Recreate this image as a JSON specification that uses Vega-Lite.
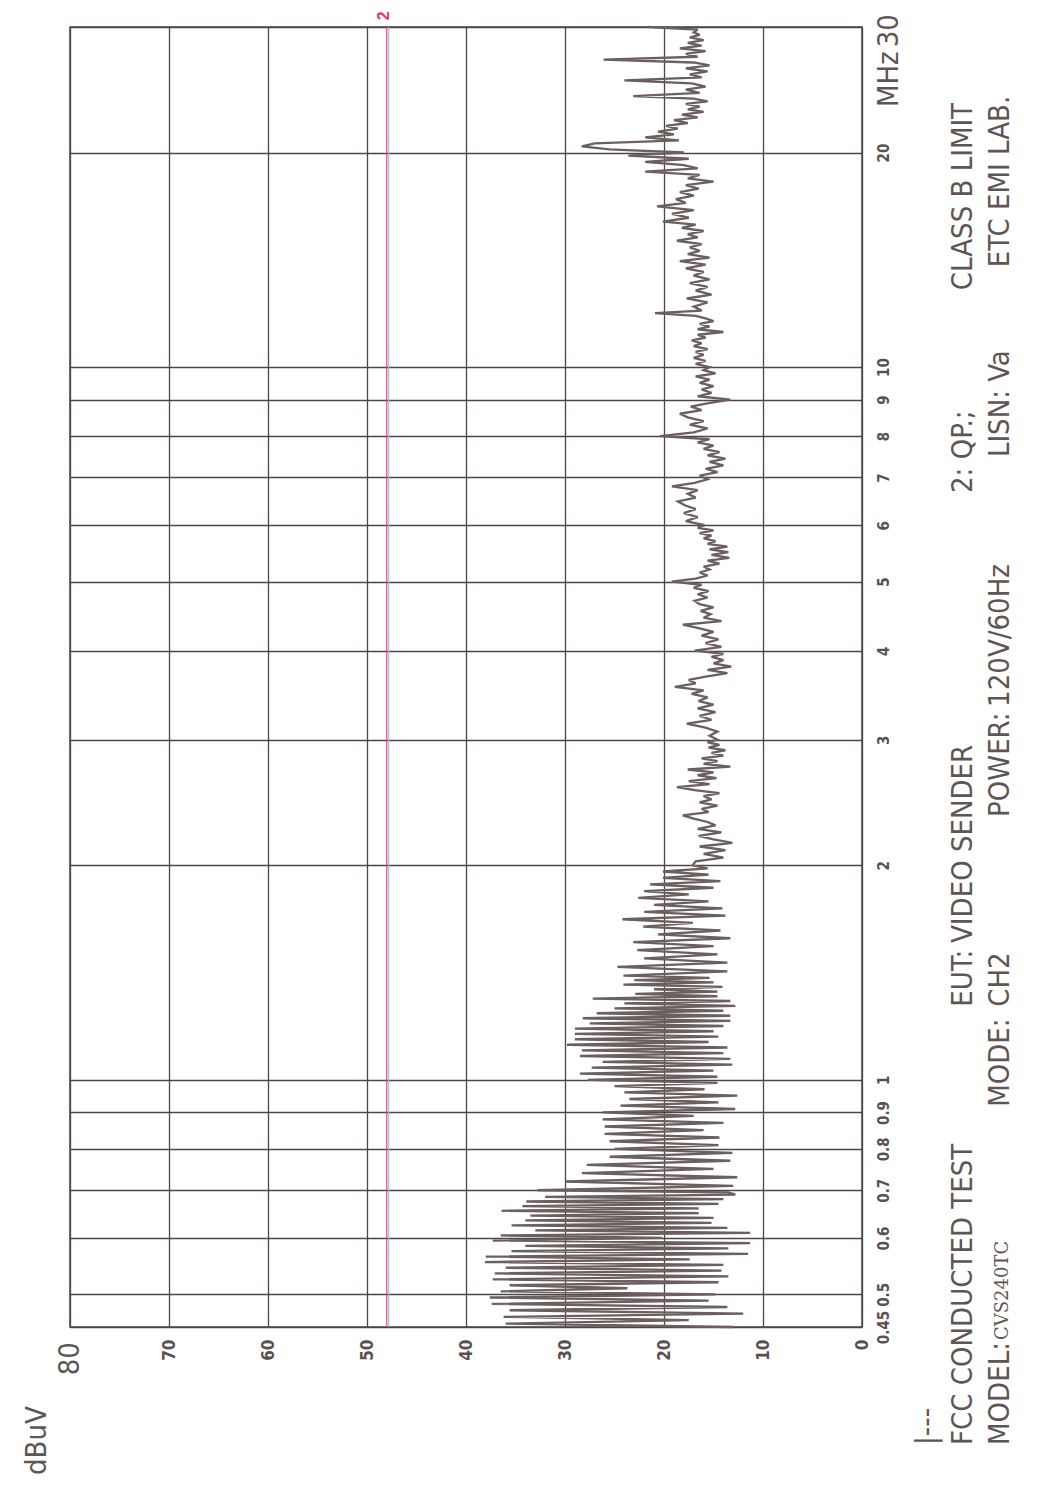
{
  "$schema": "https://vega.github.io/schema/vega-lite/v6.json",
  "width": 792,
  "height": 1300,
  "autosize": {"type": "none"},
  "padding": {"left": 70, "top": 27, "right": 177, "bottom": 173},
  "background": "#ffffff",
  "config": {
    "view": {"stroke": "#4e4646", "strokeWidth": 1.5},
    "text": {"font": "Liberation Sans Narrow, DejaVu Sans Condensed, Liberation Sans, sans-serif"}
  },
  "encoding": {
    "x": {
      "field": "v", "type": "quantitative",
      "scale": {"domain": [0, 80], "reverse": true, "nice": false, "zero": false},
      "axis": {
        "values": [0, 10, 20, 30, 40, 50, 60, 70, 80],
        "labelExpr": "datum.value == 80 ? '' : datum.label",
        "labelAngle": 270, "labelAlign": "right", "labelBaseline": "middle",
        "labelFont": "Liberation Sans Narrow, DejaVu Sans Condensed, Liberation Sans, sans-serif",
        "labelFontWeight": "bold", "labelFontSize": 17, "labelColor": "#5a5050",
        "labelPadding": 12, "ticks": false, "domain": false,
        "grid": true, "gridColor": "#4e4646", "gridWidth": 1.3,
        "title": null, "labelOverlap": false, "labelFlush": false
      }
    },
    "y": {
      "field": "f", "type": "quantitative",
      "scale": {"type": "log", "domain": [0.45, 30], "nice": false, "zero": false},
      "axis": {
        "orient": "right",
        "values": [0.45, 0.5, 0.6, 0.7, 0.8, 0.9, 1, 2, 3, 4, 5, 6, 7, 8, 9, 10, 20, 30],
        "format": "~g",
        "labelExpr": "datum.value == 30 ? '' : datum.label",
        "labelAngle": 270, "labelAlign": "center", "labelBaseline": "top",
        "labelFont": "Liberation Sans Narrow, DejaVu Sans Condensed, Liberation Sans, sans-serif",
        "labelFontWeight": "bold", "labelFontSize": 15, "labelColor": "#5a5050",
        "labelPadding": 14, "ticks": false, "domain": false,
        "grid": true, "gridColor": "#4e4646", "gridWidth": 1.3,
        "title": null, "labelOverlap": false, "labelFlush": false
      }
    }
  },
  "layer": [
    {
      "data": {"values": [
        {"series": "QP limit shadow", "v": 47.8, "f": 0.45, "f2": 30},
        {"series": "QP limit", "v": 48, "f": 0.45, "f2": 30}
      ]},
      "mark": {"type": "rule", "strokeWidth": 1.1},
      "encoding": {
        "y2": {"field": "f2"},
        "color": {"field": "series", "type": "nominal", "scale": {"domain": ["QP limit", "QP limit shadow"], "range": ["#e8336b", "#a9b3e0"]}, "legend": null}
      }
    },
    {
      "data": {"values": [
        {"f":0.45,"v":13.0},{"f":0.455,"v":36.0},{"f":0.46,"v":17.5},{"f":0.465,"v":36.2},{"f":0.47,"v":12.0},{"f":0.475,"v":35.6},{"f":0.48,"v":13.6},{"f":0.485,"v":37.4},{"f":0.49,"v":15.5},{"f":0.495,"v":37.6},
        {"f":0.5,"v":14.8},{"f":0.505,"v":36.5},{"f":0.51,"v":23.7},{"f":0.515,"v":35.6},{"f":0.52,"v":14.5},{"f":0.525,"v":37.3},{"f":0.53,"v":13.5},{"f":0.535,"v":37.1},{"f":0.54,"v":14.2},{"f":0.545,"v":36.0},
        {"f":0.55,"v":14.0},{"f":0.555,"v":38.1},{"f":0.56,"v":17.4},{"f":0.565,"v":38.0},{"f":0.57,"v":11.5},{"f":0.575,"v":35.4},{"f":0.58,"v":13.5},{"f":0.585,"v":34.0},{"f":0.59,"v":11.3},{"f":0.595,"v":37.3},
        {"f":0.6,"v":20.2},{"f":0.605,"v":36.5},{"f":0.61,"v":11.3},{"f":0.615,"v":33.0},{"f":0.62,"v":13.6},{"f":0.625,"v":35.4},{"f":0.63,"v":15.2},{"f":0.635,"v":34.0},{"f":0.64,"v":15.0},{"f":0.645,"v":33.5},
        {"f":0.65,"v":16.5},{"f":0.655,"v":36.4},{"f":0.66,"v":16.5},{"f":0.665,"v":34.3},{"f":0.67,"v":14.5},{"f":0.675,"v":33.9},{"f":0.68,"v":14.0},{"f":0.685,"v":32.0},{"f":0.69,"v":12.8},{"f":0.695,"v":13.5},
        {"f":0.7,"v":32.8},{"f":0.71,"v":13.0},{"f":0.72,"v":30.0},{"f":0.73,"v":12.6},{"f":0.74,"v":28.3},{"f":0.75,"v":15.0},{"f":0.76,"v":27.8},{"f":0.77,"v":13.3},{"f":0.78,"v":25.5},{"f":0.79,"v":13.1},
        {"f":0.8,"v":25.0},{"f":0.81,"v":14.5},{"f":0.82,"v":25.5},{"f":0.83,"v":14.4},{"f":0.84,"v":26.0},{"f":0.85,"v":16.0},{"f":0.86,"v":26.0},{"f":0.87,"v":14.0},{"f":0.88,"v":26.2},{"f":0.89,"v":17.0},
        {"f":0.9,"v":26.2},{"f":0.91,"v":12.8},{"f":0.92,"v":24.4},{"f":0.93,"v":14.5},{"f":0.94,"v":23.5},{"f":0.95,"v":12.6},{"f":0.96,"v":24.0},{"f":0.97,"v":15.9},{"f":0.98,"v":25.0},{"f":0.99,"v":14.6},
        {"f":1.0,"v":27.7},{"f":1.01,"v":14.6},{"f":1.02,"v":28.5},{"f":1.03,"v":15.0},{"f":1.04,"v":27.3},{"f":1.05,"v":13.1},{"f":1.06,"v":26.2},{"f":1.07,"v":13.3},{"f":1.08,"v":28.5},{"f":1.09,"v":14.0},
        {"f":1.1,"v":28.3},{"f":1.11,"v":13.6},{"f":1.12,"v":29.8},{"f":1.13,"v":15.5},{"f":1.14,"v":29.0},{"f":1.15,"v":14.5},{"f":1.16,"v":29.0},{"f":1.17,"v":15.0},{"f":1.18,"v":29.0},{"f":1.19,"v":14.0},
        {"f":1.2,"v":27.5},{"f":1.21,"v":13.3},{"f":1.22,"v":28.2},{"f":1.23,"v":13.3},{"f":1.24,"v":26.8},{"f":1.25,"v":14.0},{"f":1.26,"v":25.0},{"f":1.27,"v":12.8},{"f":1.28,"v":24.0},{"f":1.29,"v":13.3},
        {"f":1.3,"v":27.2},{"f":1.31,"v":14.6},{"f":1.32,"v":22.9},{"f":1.33,"v":14.6},{"f":1.34,"v":21.0},{"f":1.35,"v":14.1},{"f":1.36,"v":24.1},{"f":1.37,"v":15.0},{"f":1.38,"v":23.0},{"f":1.39,"v":15.4},
        {"f":1.4,"v":24.1},{"f":1.42,"v":13.6},{"f":1.44,"v":24.7},{"f":1.46,"v":13.6},{"f":1.48,"v":22.0},{"f":1.5,"v":14.6},{"f":1.52,"v":22.7},{"f":1.54,"v":15.0},{"f":1.56,"v":23.1},{"f":1.58,"v":13.3},
        {"f":1.6,"v":20.6},{"f":1.62,"v":14.3},{"f":1.64,"v":22.1},{"f":1.66,"v":17.1},{"f":1.68,"v":24.2},{"f":1.7,"v":13.8},{"f":1.72,"v":22.0},{"f":1.74,"v":14.1},{"f":1.76,"v":21.0},{"f":1.78,"v":15.5},
        {"f":1.8,"v":22.6},{"f":1.82,"v":17.5},{"f":1.84,"v":22.0},{"f":1.86,"v":15.0},{"f":1.88,"v":21.4},{"f":1.9,"v":14.3},{"f":1.92,"v":20.1},{"f":1.94,"v":15.5},{"f":1.96,"v":20.1},{"f":1.98,"v":15.6},
        {"f":2.0,"v":17.1},{"f":2.025,"v":16.8},{"f":2.05,"v":14.0},{"f":2.075,"v":16.0},{"f":2.1,"v":13.8},{"f":2.125,"v":16.4},{"f":2.15,"v":13.1},{"f":2.175,"v":15.0},{"f":2.2,"v":16.5},{"f":2.225,"v":14.2},
        {"f":2.25,"v":16.6},{"f":2.275,"v":14.8},{"f":2.3,"v":15.6},{"f":2.325,"v":17.0},{"f":2.35,"v":18.1},{"f":2.375,"v":15.5},{"f":2.4,"v":16.2},{"f":2.425,"v":14.6},{"f":2.45,"v":16.4},{"f":2.475,"v":15.2},
        {"f":2.5,"v":16.0},{"f":2.525,"v":14.4},{"f":2.55,"v":16.9},{"f":2.575,"v":18.7},{"f":2.6,"v":15.4},{"f":2.625,"v":17.5},{"f":2.65,"v":14.7},{"f":2.675,"v":16.6},{"f":2.7,"v":15.0},{"f":2.725,"v":17.6},
        {"f":2.75,"v":13.3},{"f":2.775,"v":16.0},{"f":2.8,"v":14.6},{"f":2.825,"v":16.2},{"f":2.85,"v":14.0},{"f":2.875,"v":15.2},{"f":2.9,"v":13.8},{"f":2.925,"v":15.5},{"f":2.95,"v":14.4},{"f":2.975,"v":15.6},
        {"f":3.0,"v":14.6},{"f":3.04,"v":15.4},{"f":3.08,"v":14.6},{"f":3.12,"v":15.8},{"f":3.16,"v":17.7},{"f":3.2,"v":15.2},{"f":3.24,"v":16.4},{"f":3.28,"v":14.8},{"f":3.32,"v":16.6},{"f":3.36,"v":15.0},
        {"f":3.4,"v":16.5},{"f":3.44,"v":15.6},{"f":3.48,"v":17.2},{"f":3.52,"v":16.0},{"f":3.56,"v":18.9},{"f":3.6,"v":16.8},{"f":3.64,"v":17.5},{"f":3.68,"v":15.8},{"f":3.72,"v":13.6},{"f":3.76,"v":15.6},
        {"f":3.8,"v":13.2},{"f":3.84,"v":15.0},{"f":3.88,"v":14.0},{"f":3.92,"v":15.2},{"f":3.96,"v":14.0},{"f":4.0,"v":16.9},{"f":4.05,"v":14.2},{"f":4.1,"v":15.8},{"f":4.15,"v":14.5},{"f":4.2,"v":16.2},
        {"f":4.25,"v":15.0},{"f":4.3,"v":16.4},{"f":4.35,"v":18.1},{"f":4.4,"v":14.2},{"f":4.45,"v":16.0},{"f":4.5,"v":15.3},{"f":4.55,"v":16.3},{"f":4.6,"v":15.0},{"f":4.65,"v":16.4},{"f":4.7,"v":16.9},
        {"f":4.75,"v":15.6},{"f":4.8,"v":16.6},{"f":4.85,"v":15.5},{"f":4.9,"v":17.0},{"f":4.95,"v":16.2},{"f":5.0,"v":19.2},{"f":5.05,"v":16.8},{"f":5.1,"v":15.6},{"f":5.15,"v":16.4},{"f":5.2,"v":15.4},
        {"f":5.25,"v":16.0},{"f":5.3,"v":14.4},{"f":5.35,"v":15.6},{"f":5.4,"v":13.4},{"f":5.45,"v":15.2},{"f":5.5,"v":13.5},{"f":5.55,"v":15.4},{"f":5.6,"v":13.6},{"f":5.65,"v":15.6},{"f":5.7,"v":14.8},
        {"f":5.75,"v":16.0},{"f":5.8,"v":15.2},{"f":5.85,"v":16.4},{"f":5.9,"v":15.0},{"f":5.95,"v":16.6},{"f":6.0,"v":15.9},{"f":6.08,"v":17.8},{"f":6.16,"v":16.6},{"f":6.24,"v":18.0},{"f":6.32,"v":16.8},
        {"f":6.4,"v":17.9},{"f":6.48,"v":18.6},{"f":6.56,"v":16.8},{"f":6.64,"v":17.6},{"f":6.72,"v":16.6},{"f":6.8,"v":19.2},{"f":6.88,"v":16.9},{"f":6.96,"v":15.6},{"f":7.04,"v":16.4},{"f":7.12,"v":14.6},
        {"f":7.2,"v":15.8},{"f":7.28,"v":14.0},{"f":7.36,"v":15.4},{"f":7.44,"v":13.8},{"f":7.52,"v":15.6},{"f":7.6,"v":14.4},{"f":7.68,"v":16.0},{"f":7.76,"v":15.0},{"f":7.84,"v":16.6},{"f":7.92,"v":15.4},
        {"f":8.0,"v":20.4},{"f":8.1,"v":17.0},{"f":8.2,"v":15.6},{"f":8.3,"v":17.4},{"f":8.4,"v":16.0},{"f":8.5,"v":17.6},{"f":8.6,"v":18.4},{"f":8.7,"v":16.2},{"f":8.8,"v":17.3},{"f":8.9,"v":15.5},
        {"f":9.0,"v":13.3},{"f":9.1,"v":16.6},{"f":9.2,"v":15.2},{"f":9.3,"v":16.2},{"f":9.4,"v":15.0},{"f":9.5,"v":16.4},{"f":9.6,"v":15.4},{"f":9.7,"v":16.8},{"f":9.8,"v":14.8},{"f":9.9,"v":16.0},
        {"f":10.0,"v":15.4},{"f":10.1,"v":16.8},{"f":10.2,"v":15.8},{"f":10.3,"v":17.0},{"f":10.4,"v":16.0},{"f":10.5,"v":16.8},{"f":10.6,"v":15.6},{"f":10.7,"v":17.0},{"f":10.8,"v":16.2},{"f":10.9,"v":17.2},
        {"f":11.0,"v":15.8},{"f":11.1,"v":16.6},{"f":11.2,"v":14.0},{"f":11.3,"v":16.6},{"f":11.4,"v":15.4},{"f":11.5,"v":16.4},{"f":11.6,"v":15.0},{"f":11.7,"v":15.8},{"f":11.8,"v":16.8},{"f":11.9,"v":20.9},
        {"f":12.0,"v":16.2},{"f":12.16,"v":17.0},{"f":12.32,"v":15.6},{"f":12.48,"v":17.7},{"f":12.64,"v":15.2},{"f":12.8,"v":16.8},{"f":12.96,"v":15.6},{"f":13.12,"v":17.4},{"f":13.28,"v":15.4},{"f":13.44,"v":17.0},
        {"f":13.6,"v":16.0},{"f":13.76,"v":17.8},{"f":13.92,"v":15.8},{"f":14.08,"v":18.4},{"f":14.24,"v":15.4},{"f":14.4,"v":17.6},{"f":14.56,"v":16.4},{"f":14.72,"v":17.4},{"f":14.88,"v":16.2},{"f":15.04,"v":18.7},
        {"f":15.2,"v":16.6},{"f":15.36,"v":17.6},{"f":15.52,"v":16.0},{"f":15.68,"v":18.2},{"f":15.84,"v":16.8},{"f":16.0,"v":20.1},{"f":16.2,"v":17.5},{"f":16.4,"v":19.2},{"f":16.6,"v":17.0},{"f":16.8,"v":20.7},
        {"f":17.0,"v":17.8},{"f":17.2,"v":18.8},{"f":17.4,"v":17.0},{"f":17.6,"v":18.4},{"f":17.8,"v":16.5},{"f":18.0,"v":17.8},{"f":18.2,"v":15.0},{"f":18.4,"v":17.6},{"f":18.6,"v":16.4},{"f":18.8,"v":21.9},
        {"f":19.0,"v":16.6},{"f":19.2,"v":18.0},{"f":19.4,"v":21.9},{"f":19.6,"v":17.5},{"f":19.8,"v":23.6},{"f":20.0,"v":18.0},{"f":20.2,"v":25.5},{"f":20.4,"v":28.3},{"f":20.6,"v":27.0},{"f":20.8,"v":18.5},
        {"f":21.0,"v":21.9},{"f":21.2,"v":19.0},{"f":21.4,"v":20.6},{"f":21.6,"v":18.6},{"f":21.8,"v":19.8},{"f":22.0,"v":17.6},{"f":22.2,"v":19.0},{"f":22.4,"v":16.6},{"f":22.6,"v":18.2},{"f":22.8,"v":16.0},
        {"f":23.0,"v":17.6},{"f":23.2,"v":16.4},{"f":23.4,"v":17.8},{"f":23.6,"v":15.6},{"f":23.8,"v":17.0},{"f":24.0,"v":23.1},{"f":24.25,"v":16.4},{"f":24.5,"v":17.8},{"f":24.75,"v":15.8},{"f":25.0,"v":17.2},
        {"f":25.25,"v":24.0},{"f":25.5,"v":16.2},{"f":25.75,"v":17.4},{"f":26.0,"v":15.6},{"f":26.25,"v":17.8},{"f":26.5,"v":15.4},{"f":26.75,"v":17.0},{"f":27.0,"v":26.1},{"f":27.25,"v":16.6},{"f":27.5,"v":17.8},
        {"f":27.75,"v":15.8},{"f":28.0,"v":18.4},{"f":28.25,"v":16.2},{"f":28.5,"v":17.6},{"f":28.75,"v":16.0},{"f":29.0,"v":17.4},{"f":29.25,"v":16.4},{"f":29.5,"v":17.0},{"f":29.75,"v":16.6},{"f":30.0,"v":21.6}
      ]},
      "mark": {"type": "line", "color": "#6b5f5f", "strokeWidth": 2.3, "strokeJoin": "miter", "strokeMiterLimit": 3, "interpolate": "linear"},
      "encoding": {
        "order": {"field": "f", "type": "quantitative"}
      }
    },
    {
      "data": {"values": [
        {"t": "FCC CONDUCTED TEST", "f": 0.3074, "v": -10.2},
        {"t": "MODEL:", "f": 0.3074, "v": -13.9},
        {"t": "EUT:", "f": 1.266, "v": -10.2},
        {"t": "VIDEO SENDER", "f": 1.556, "v": -10.2},
        {"t": "MODE:", "f": 0.9166, "v": -13.9},
        {"t": "CH2", "f": 1.266, "v": -13.9},
        {"t": "POWER:", "f": 2.338, "v": -13.9},
        {"t": "120V/60Hz", "f": 3.336, "v": -13.9},
        {"t": "2: QP.;", "f": 6.658, "v": -10.2},
        {"t": "LISN: Va", "f": 7.476, "v": -13.9},
        {"t": "CLASS B LIMIT", "f": 12.82, "v": -10.2},
        {"t": "ETC EMI LAB.", "f": 13.81, "v": -13.9},
        {"t": "|---", "f": 0.3074, "v": -6.6},
        {"t": "MHz", "f": 23.16, "v": -2.7},
        {"t": "30", "f": 28.1, "v": -2.7},
        {"t": "80", "f": 0.385, "v": 80},
        {"t": "dBuV", "f": 0.279, "v": 83.3}
      ]},
      "mark": {"type": "text", "angle": 270, "align": "left", "baseline": "middle", "fontSize": 29, "color": "#5e5555", "font": "Liberation Sans Narrow, DejaVu Sans Condensed, Liberation Sans, sans-serif"},
      "encoding": {"text": {"field": "t"}}
    },
    {
      "data": {"values": [{"t": "CVS240TC", "f": 0.4315, "v": -14.2}]},
      "mark": {"type": "text", "angle": 270, "align": "left", "baseline": "middle", "fontSize": 18, "color": "#5e5555", "font": "DejaVu Serif, Liberation Serif, serif"},
      "encoding": {"text": {"field": "t"}}
    },
    {
      "data": {"values": [{"t": "2", "f": 31.1, "v": 48.3}]},
      "mark": {"type": "text", "angle": 270, "align": "center", "baseline": "middle", "fontSize": 16, "fontWeight": "bold", "color": "#e8336b", "font": "Liberation Sans, sans-serif"},
      "encoding": {"text": {"field": "t"}}
    }
  ]
}
